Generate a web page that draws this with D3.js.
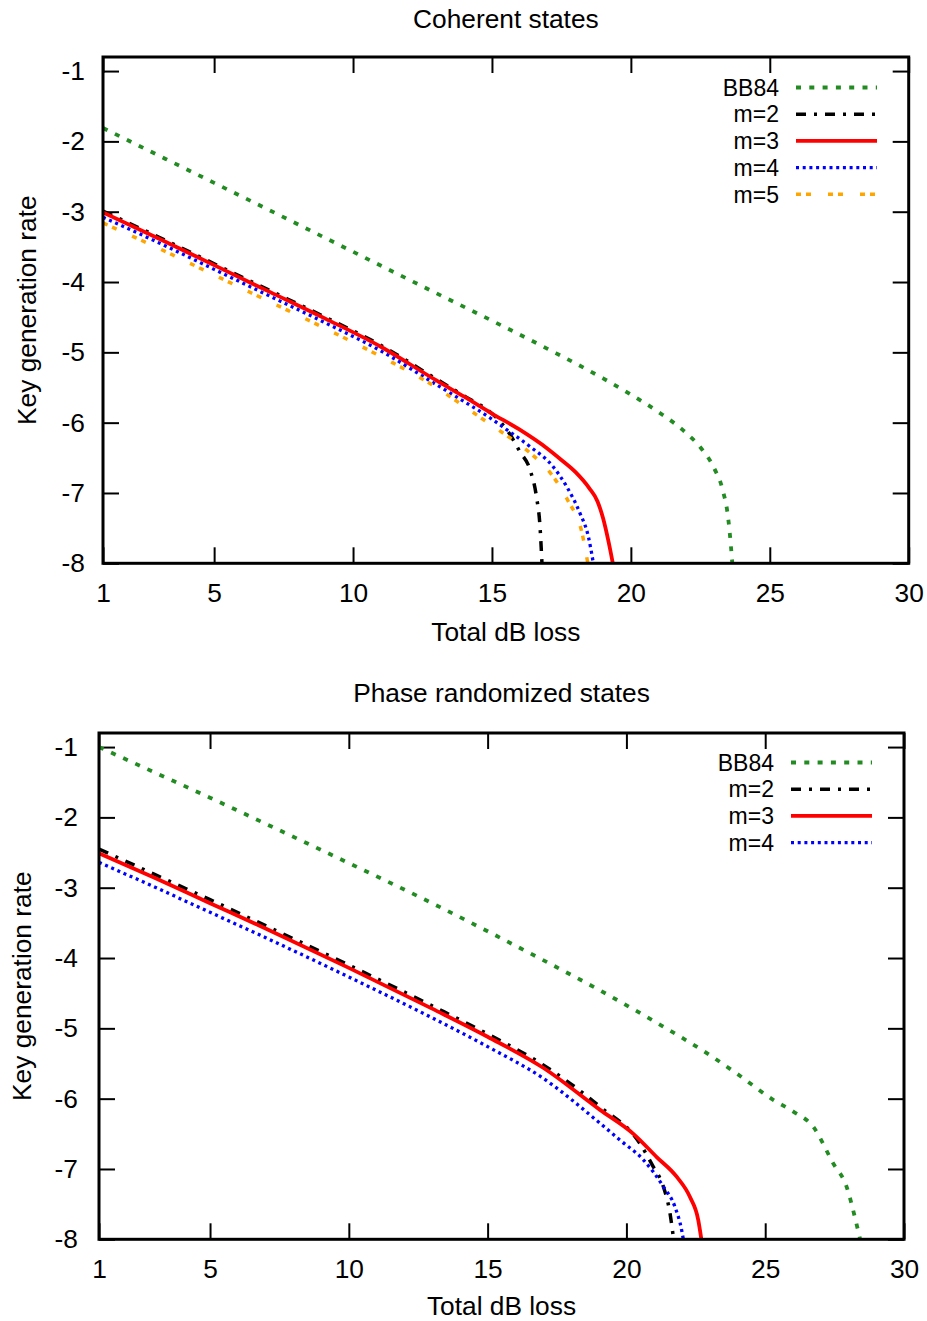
<!DOCTYPE html>
<html>
<head>
<meta charset="utf-8">
<script src="https://cdn.jsdelivr.net/npm/d3@7"></script>
<style>
  html, body { margin: 0; padding: 0; background: #fff; }
  svg { display: block; }
  text { font-family: "Liberation Sans", Arial, sans-serif; fill: #000; }
</style>
</head>
<body>
<svg id="chart" width="927" height="1321"></svg>
<script>
// ---- Coherent states ----
const cohBB84Loss = [1, 3, 5, 7, 10, 13, 15, 17, 19, 20, 21, 22, 22.5, 23, 23.3, 23.5, 23.6, 23.65];
const cohBB84Rate = [-1.81, -2.20, -2.59, -2.98, -3.57, -4.16, -4.55, -4.95, -5.37, -5.60, -5.85, -6.15, -6.35, -6.65, -6.95, -7.35, -7.75, -8.0];

const cohM2Loss = [1, 3, 5, 7, 9, 11, 13, 14, 15, 15.35, 15.7, 16, 16.37, 16.6, 16.73, 16.8];
const cohM2Rate = [-2.99, -3.36, -3.74, -4.12, -4.50, -4.90, -5.38, -5.62, -5.87, -6.01, -6.20, -6.41, -6.67, -7.05, -7.48, -8.0];

const cohM3Loss = [1, 3, 5, 7, 9, 11, 13, 14, 15, 16, 17, 17.5, 18, 18.5, 18.8, 19, 19.2, 19.35];
const cohM3Rate = [-3.01, -3.38, -3.76, -4.14, -4.52, -4.92, -5.40, -5.63, -5.87, -6.10, -6.37, -6.53, -6.70, -6.93, -7.12, -7.36, -7.70, -8.0];

const cohM4Loss = [1, 3, 5, 7, 9, 11, 13, 14, 15, 15.53, 16.37, 17.21, 17.69, 18.17, 18.47, 18.65];
const cohM4Rate = [-3.08, -3.44, -3.82, -4.20, -4.58, -4.98, -5.46, -5.70, -5.95, -6.10, -6.34, -6.63, -6.91, -7.29, -7.62, -8.0];

const cohM5Loss = [1, 3, 5, 7, 9, 11, 13, 13.49, 14.45, 15.41, 16.31, 17.15, 17.75, 18.23, 18.45];
const cohM5Rate = [-3.16, -3.52, -3.90, -4.28, -4.66, -5.06, -5.50, -5.63, -5.89, -6.15, -6.41, -6.74, -7.12, -7.55, -8.0];

// ---- Phase randomized states ----
const prBB84Loss = [1, 3, 5, 7, 10, 13, 15, 17, 19, 21, 23, 24, 25.3, 26, 26.73, 27.45, 27.93, 28.3, 28.42];
const prBB84Rate = [-1.0, -1.36, -1.72, -2.09, -2.65, -3.22, -3.62, -4.03, -4.45, -4.90, -5.38, -5.65, -6.02, -6.18, -6.40, -6.92, -7.25, -7.80, -8.0];

const prM2Loss = [1, 3, 5, 7, 10, 13, 15, 17, 19, 20.49, 20.97, 21.33, 21.57, 21.7];
const prM2Rate = [-2.45, -2.81, -3.17, -3.54, -4.10, -4.68, -5.08, -5.52, -6.10, -6.64, -6.97, -7.25, -7.63, -8.0];

const prM3Loss = [1, 3, 5, 7, 10, 13, 15, 17, 19.05, 20.25, 21.09, 21.81, 22.29, 22.59, 22.7];
const prM3Rate = [-2.51, -2.86, -3.22, -3.58, -4.14, -4.72, -5.12, -5.56, -6.16, -6.50, -6.83, -7.11, -7.40, -7.73, -8.0];

const prM4Loss = [1, 3, 5, 7, 10, 13, 15, 17, 19.05, 19.77, 20.61, 21.33, 21.75, 21.99, 22.05];
const prM4Rate = [-2.64, -2.99, -3.35, -3.71, -4.27, -4.85, -5.26, -5.71, -6.35, -6.59, -6.87, -7.25, -7.54, -7.87, -8.0];

// ---- Axes ----
const xTicks = [1, 5, 10, 15, 20, 25, 30];
const yTicks = [-1, -2, -3, -4, -5, -6, -7, -8];
const xDomain = [1, 30];
const yDomain = [-8, -0.8];

// ---- Styles ----
const styles = {
  BB84: { color: "#228b22", dash: "5,8.3", width: 3.8 },
  "m=2": { color: "#000000", dash: "10,8,3,8", width: 3.5 },
  "m=3": { color: "#ff0000", dash: null, width: 3.8 },
  "m=4": { color: "#0000ff", dash: "3,3.7", width: 3.3 },
  "m=5": { color: "#ffa500", dash: "5,5,5,17", width: 3.5 }
};

const zip = (xs, ys) => xs.map((x, i) => ({ x, y: ys[i] }));

const panels = [
  {
    title: "Coherent states",
    box: { left: 103, right: 908.7, top: 57, bottom: 563.3 },
    legend: { textX: 779, lineX0: 796, lineX1: 877, y0: 87.5, dy: 26.7 },
    yLabelX: 36,
    yPad: 18,
    titleY: 28,
    xLabelY: 641,
    series: [
      { name: "BB84", data: zip(cohBB84Loss, cohBB84Rate) },
      { name: "m=2", data: zip(cohM2Loss, cohM2Rate) },
      { name: "m=3", data: zip(cohM3Loss, cohM3Rate) },
      { name: "m=4", data: zip(cohM4Loss, cohM4Rate) },
      { name: "m=5", data: zip(cohM5Loss, cohM5Rate) }
    ]
  },
  {
    title: "Phase randomized states",
    box: { left: 99, right: 904, top: 733, bottom: 1239.3 },
    legend: { textX: 774, lineX0: 791, lineX1: 872, y0: 762.5, dy: 26.7 },
    yLabelX: 31,
    yPad: 21,
    titleY: 702,
    xLabelY: 1315,
    series: [
      { name: "BB84", data: zip(prBB84Loss, prBB84Rate) },
      { name: "m=2", data: zip(prM2Loss, prM2Rate) },
      { name: "m=3", data: zip(prM3Loss, prM3Rate) },
      { name: "m=4", data: zip(prM4Loss, prM4Rate) }
    ]
  }
];

const svg = d3.select("#chart");
const FONT = 26.3;
const LEGEND_FONT = 23;
const TICK = 16;

panels.forEach((p, idx) => {
  const b = p.box;
  const x = d3.scaleLinear().domain(xDomain).range([b.left, b.right]);
  const y = d3.scaleLinear().domain(yDomain).range([b.bottom, b.top]);
  const g = svg.append("g");
  const cx = (b.left + b.right) / 2;

  // title and axis labels
  g.append("text").attr("x", cx).attr("y", p.titleY)
    .attr("text-anchor", "middle").attr("font-size", FONT).text(p.title);
  g.append("text").attr("x", cx).attr("y", p.xLabelY)
    .attr("text-anchor", "middle").attr("font-size", FONT).text("Total dB loss");
  g.append("text")
    .attr("transform", `translate(${p.yLabelX},${(b.top + b.bottom) / 2}) rotate(-90)`)
    .attr("text-anchor", "middle").attr("font-size", FONT).text("Key generation rate");

  // axes with inward ticks on all four sides
  const axisBottom = d3.axisBottom(x).tickValues(xTicks).tickSize(-TICK).tickPadding(20).tickFormat(d3.format("d"));
  const axisTop = d3.axisTop(x).tickValues(xTicks).tickSize(-TICK).tickFormat("");
  const axisLeft = d3.axisLeft(y).tickValues(yTicks).tickSize(-TICK).tickPadding(p.yPad).tickFormat(d => String(d));
  const axisRight = d3.axisRight(y).tickValues(yTicks).tickSize(-TICK).tickFormat("");

  const axes = [
    g.append("g").attr("transform", `translate(0,${b.bottom})`).call(axisBottom),
    g.append("g").attr("transform", `translate(0,${b.top})`).call(axisTop),
    g.append("g").attr("transform", `translate(${b.left},0)`).call(axisLeft),
    g.append("g").attr("transform", `translate(${b.right},0)`).call(axisRight)
  ];
  axes.forEach(a => {
    a.select(".domain").remove();
    a.selectAll(".tick line").attr("stroke", "#000").attr("stroke-width", 2);
    a.selectAll(".tick text").attr("font-size", FONT)
      .attr("font-family", '"Liberation Sans", Arial, sans-serif').attr("fill", "#000");
  });

  // clip region
  const clipId = "clip" + idx;
  svg.append("defs").append("clipPath").attr("id", clipId)
    .append("rect").attr("x", b.left).attr("y", b.top)
    .attr("width", b.right - b.left).attr("height", b.bottom - b.top);

  const line = d3.line().x(d => x(d.x)).y(d => y(d.y)).curve(d3.curveMonotoneX);

  const curves = g.append("g").attr("clip-path", `url(#${clipId})`);
  p.series.forEach(s => {
    const st = styles[s.name];
    curves.append("path").datum(s.data)
      .attr("d", line)
      .attr("fill", "none")
      .attr("stroke", st.color)
      .attr("stroke-width", st.width)
      .attr("stroke-dasharray", st.dash)
      .attr("stroke-linejoin", "round");
  });

  // legend
  const lg = g.append("g");
  p.series.forEach((s, i) => {
    const st = styles[s.name];
    const ly = p.legend.y0 + i * p.legend.dy;
    lg.append("text").attr("x", p.legend.textX).attr("y", ly)
      .attr("dy", "0.36em").attr("text-anchor", "end").attr("font-size", LEGEND_FONT).text(s.name);
    lg.append("line").attr("x1", p.legend.lineX0).attr("x2", p.legend.lineX1)
      .attr("y1", ly).attr("y2", ly)
      .attr("stroke", st.color).attr("stroke-width", st.width)
      .attr("stroke-dasharray", st.dash);
  });

  // frame
  g.append("rect").attr("x", b.left).attr("y", b.top)
    .attr("width", b.right - b.left).attr("height", b.bottom - b.top)
    .attr("fill", "none").attr("stroke", "#000").attr("stroke-width", 3);
});
</script>
</body>
</html>
